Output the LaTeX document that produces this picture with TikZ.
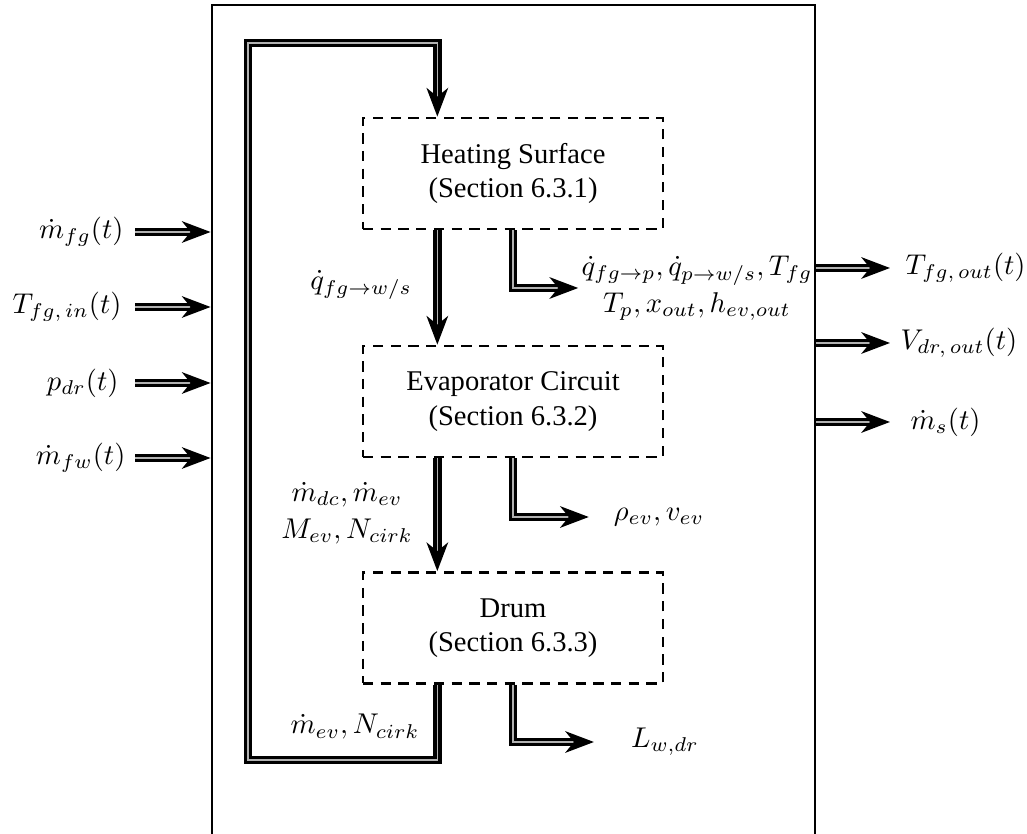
\documentclass[tikz,border=0pt]{standalone}
\usepackage{fontspec}
\setmainfont{Liberation Serif}
\usetikzlibrary{arrows.meta,calc}
\begin{document}
\begin{tikzpicture}[x=0.35pt,y=-0.35pt,
 box/.style={draw, dash pattern=on 3.6pt off 2.6pt, line width=0.95pt, minimum width=105pt, minimum height=38.85pt, align=center, inner sep=0pt, font=\rmfamily},
 dline/.style={line width=1.3pt, double=gray!60, double distance=0.5pt},
 flow/.style={dline, -{Stealth[length=10pt,width=7.5pt,inset=3pt]}},
 lbl/.style={inner sep=0pt}]
\clip (0,0) rectangle (1027,834);
\useasboundingbox (0,0) rectangle (1027,834);
% system boundary
\node[draw, line width=1pt, minimum width=211.05pt, minimum height=313.25pt, inner sep=0pt] (sys) at (513.5,452.5) {};
% blocks
\node[box] (hs) at (513,173.5) {Heating Surface\\(Section 6.3.1)};
\node[box] (ec) at (513,401.5) {Evaporator Circuit\\(Section 6.3.2)};
\node[box] (dr) at (513,628) {Drum\\(Section 6.3.3)};
% loop
\coordinate (lp1) at (248,760);
\coordinate (lp2) at (248,43);
\draw[flow] ($(dr.south west)!.25!(dr.south east)$) |- (lp1) -- (lp2) -| ($(hs.north west)!.25!(hs.north east)$);
\draw[flow] ($(hs.south west)!.25!(hs.south east)$) -- ($(ec.north west)!.25!(ec.north east)$);
\draw[flow] ($(ec.south west)!.25!(ec.south east)$) -- ($(dr.north west)!.25!(dr.north east)$);
% inner labels
\node[lbl] (qfw) at (361,285) {$\dot q_{fg\rightarrow w/s}$};
\node[lbl, align=center] (mdc) at (347,513) {$\dot m_{dc},\dot m_{ev}$\\[1pt]$M_{ev},N_{cirk}$};
\node[lbl] (mev) at (355,727) {$\dot m_{ev},N_{cirk}$};
% outputs of blocks
\node[lbl, align=center, inner sep=1pt] (qout) at (697,288) {$\dot q_{fg\rightarrow p},\dot q_{p\rightarrow w/s},T_{fg}$\\[1pt]$T_p,x_{out},h_{ev,out}$};
\draw[flow] (hs.south) |- (qout.west);
\node[lbl] (rho) at (659,517) {$\rho_{ev},v_{ev}$};
\draw[flow] (ec.south) |- ([xshift=-8.6pt]rho.west);
\node[lbl] (lw) at (665,742) {$L_{w,dr}$};
\draw[flow] (dr.south) |- ([xshift=-12.8pt]lw.west);
% system inputs
\node[lbl, anchor=east] (mfg) at (124,232) {$\dot m_{fg}(t)$};
\node[lbl, anchor=east] (tfg) at (122,307) {$T_{fg,\,in}(t)$};
\node[lbl, anchor=east] (pdr) at (119,383) {$p_{dr}(t)$};
\node[lbl, anchor=east] (mfw) at (126,458) {$\dot m_{fw}(t)$};
\foreach \n in {mfg,tfg,pdr,mfw}
  \draw[flow] (\n.east -| 135,0) -- (\n.east -| sys.west);
% system outputs
\node[lbl, anchor=west] (tfo) at (905,268) {$T_{fg,\,out}(t)$};
\node[lbl, anchor=west] (vdr) at (900,343) {$V_{dr,\,out}(t)$};
\node[lbl, anchor=west] (ms) at (910,422) {$\dot m_s(t)$};
\draw[flow] (tfo.west -| sys.east) -- (tfo.west -| 890,0);
\draw[flow] (vdr.west -| sys.east) -- (vdr.west -| 890,0);
\draw[flow] (ms.west -| sys.east) -- (ms.west -| 890,0);
\end{tikzpicture}
\end{document}
